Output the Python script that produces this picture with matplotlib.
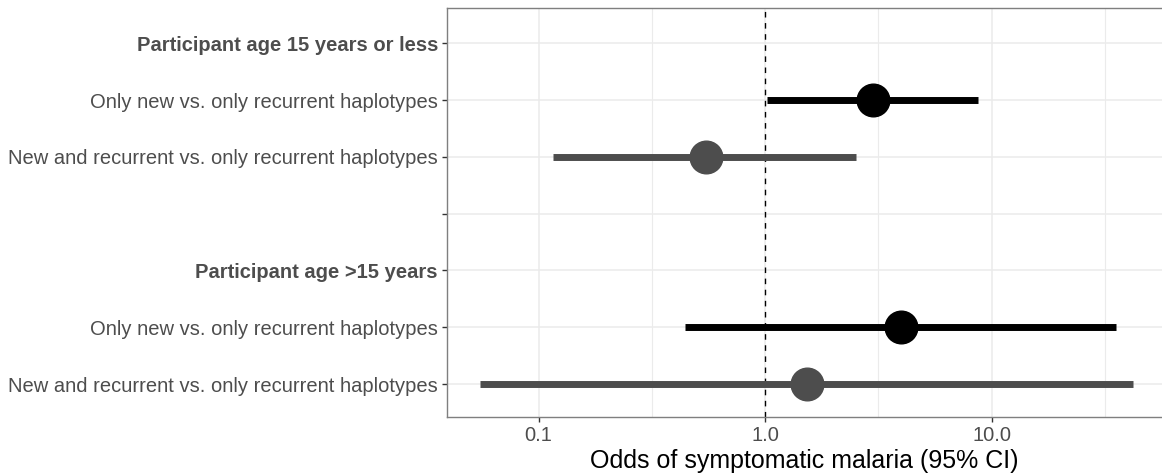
import matplotlib
matplotlib.use("Agg")
import matplotlib.pyplot as plt
import numpy as np

plt.rcParams['font.family'] = ['Liberation Sans', 'DejaVu Sans']

labels = [
    "Participant age 15 years or less",
    "Only new vs. only recurrent haplotypes",
    "New and recurrent vs. only recurrent haplotypes",
    "",
    "Participant age >15 years",
    "Only new vs. only recurrent haplotypes",
    "New and recurrent vs. only recurrent haplotypes",
]
bold_rows = [0, 4]

# estimates per data row (row index into labels)
row_idx = [1, 2, 5, 6]
odds = [3.0, 0.55, 4.0, 1.53]
lower = [1.02, 0.116, 0.445, 0.055]
upper = [8.7, 2.52, 35.5, 42.0]
group = ["new", "both", "new", "both"]
colors = {"new": "#000000", "both": "#4D4D4D"}

xticks = [0.1, 1.0, 10.0]
xticklabels = ["0.1", "1.0", "10.0"]
minor_ticks = [10 ** -0.5, 10 ** 0.5, 10 ** 1.5]

fig = plt.figure(figsize=(11.62, 4.74), dpi=100)
ax = fig.add_axes([447 / 1162, 1 - 417 / 474, (1162 - 447) / 1162, (417 - 8) / 474])

n = len(labels)
ypos = {i: n - i for i in range(n)}

ax.set_xscale('log')
xmin = 10 ** ((447 - 765) / 226.5)
xmax = 10 ** ((1162 - 765) / 226.5)
ax.set_xlim(xmin, xmax)
ax.set_ylim(0.42, n + 0.62)

# grid
for xv in xticks:
    ax.axvline(xv, color="#EBEBEB", lw=1.1, zorder=0)
for xv in minor_ticks:
    ax.axvline(xv, color="#EBEBEB", lw=0.8, zorder=0)
for i in range(n):
    ax.axhline(ypos[i], color="#EBEBEB", lw=1.1, zorder=0)

ax.axvline(1.0, color="black", lw=1.0, ls=(0, (4, 4)), zorder=1)

for r, o, lo, hi, g in zip(row_idx, odds, lower, upper, group):
    y = ypos[r]
    ax.plot([lo, hi], [y, y], color=colors[g], lw=5.0, solid_capstyle='butt', zorder=2)
    ax.plot([o], [y], 'o', color=colors[g], ms=23.5, mec=colors[g], zorder=3)

ax.set_yticks([ypos[i] for i in range(n)])
ax.set_yticklabels(labels)
for i, t in enumerate(ax.get_yticklabels()):
    t.set_color("#4D4D4D")
    t.set_fontsize(14.5)
    if i in bold_rows:
        t.set_fontweight('bold')

ax.set_xticks(xticks)
ax.set_xticklabels(xticklabels)
ax.xaxis.set_minor_locator(matplotlib.ticker.NullLocator())
ax.tick_params(axis='x', labelsize=14.5, labelcolor="#4D4D4D", color="#333333", length=3.5, width=1.0, pad=3)
ax.tick_params(axis='y', color="#333333", length=3.5, width=1.0, pad=3)
ax.set_xlabel("Odds of symptomatic malaria (95% CI)", fontsize=18, color="black", labelpad=3)

for s in ax.spines.values():
    s.set_color("#7F7F7F")
    s.set_linewidth(1.0)
ax.spines['right'].set_visible(False)

fig.savefig("out.png", dpi=100)
